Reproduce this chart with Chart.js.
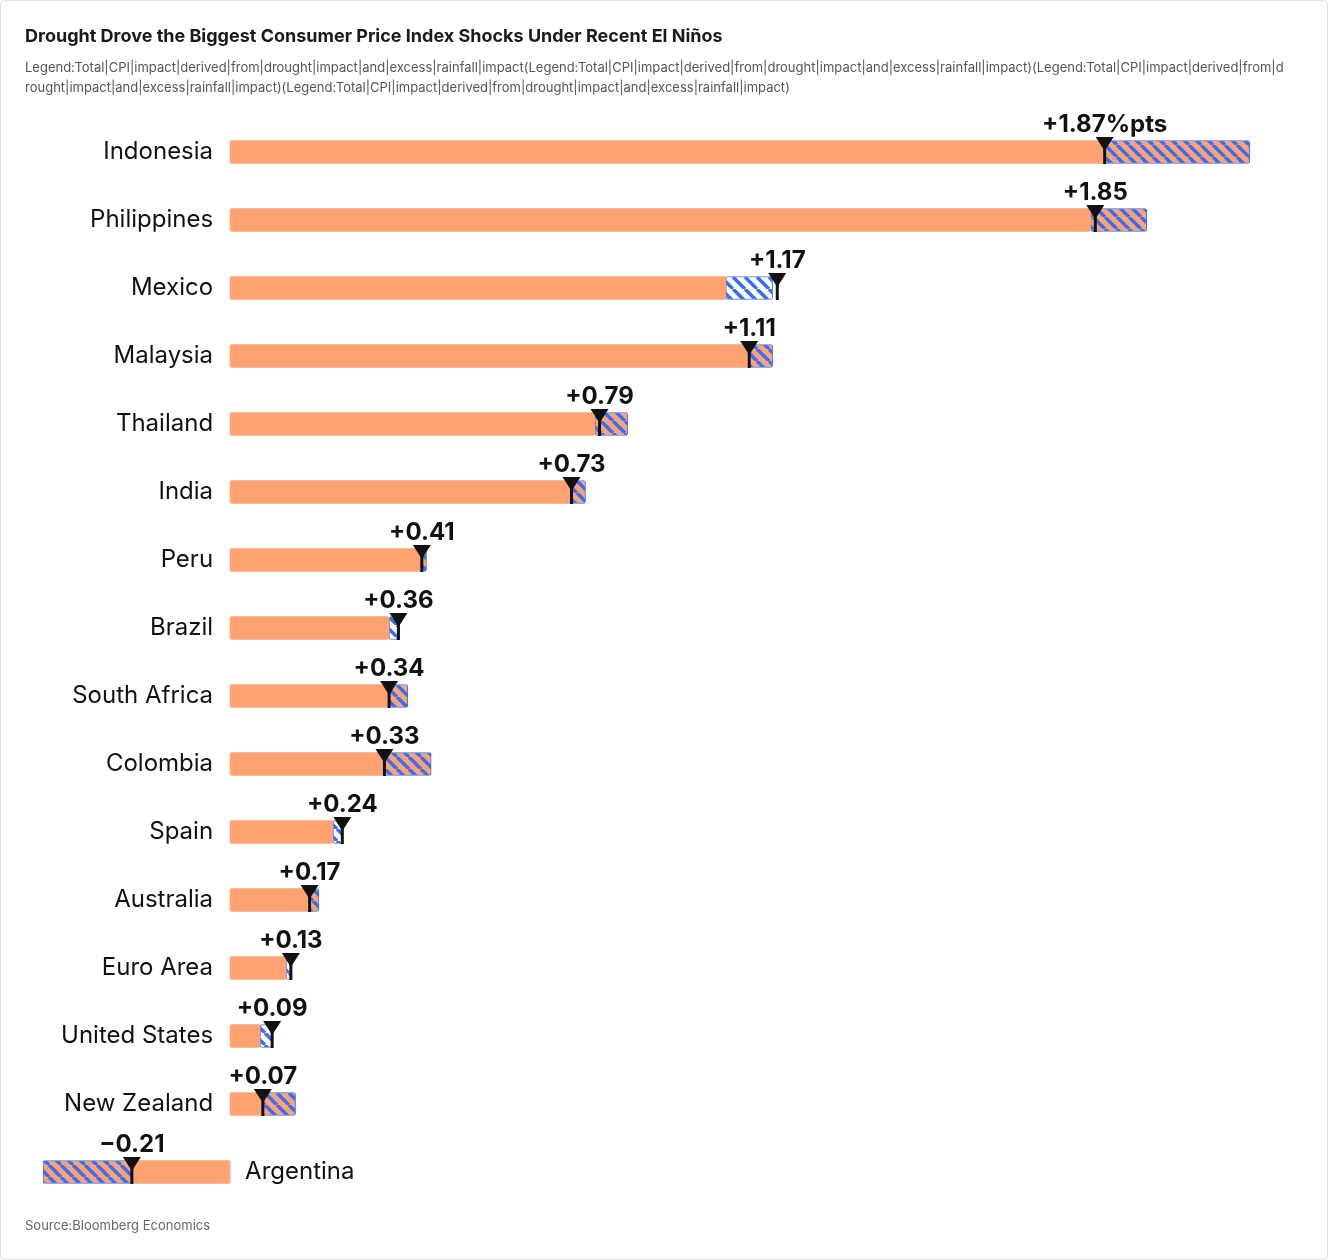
<!DOCTYPE html>
<html>
<head>
<meta charset="utf-8">
<script src="https://cdn.jsdelivr.net/npm/chart.js@4"></script>
<style>
  body { margin: 0; background: #fff; font-family: Inter, "Noto Sans", sans-serif; }
  #wrap { position: relative; width: 1328px; height: 1260px; box-sizing: border-box; border: 1px solid #e2e2e2; border-radius: 4px; }
  #title { position: absolute; left: 24px; top: 24px; font-size: 18px; font-weight: 700; color: #1a1a1a; }
  #sub { position: absolute; left: 24px; top: 56px; width: 1260px; font-size: 13px; line-height: 20px; color: #555; word-break: break-all; }
  #src { position: absolute; left: 24px; top: 1216px; font-size: 13px; color: #666; }
  canvas { position: absolute; left: 0; top: 0; }
</style>
</head>
<body>
<div id="wrap">
  <canvas id="c" width="1328" height="1260"></canvas>
  <div id="title">Drought Drove the Biggest Consumer Price Index Shocks Under Recent El Niños</div>
  <div id="sub">Legend:Total|CPI|impact|derived|from|drought|impact|and|excess|rainfall|impact(Legend:Total|CPI|impact|derived|from|drought|impact|and|excess|rainfall|impact)(Legend:Total|CPI|impact|derived|from|drought|impact|and|excess|rainfall|impact)(Legend:Total|CPI|impact|derived|from|drought|impact|and|excess|rainfall|impact)</div>
  <div id="src">Source:Bloomberg Economics</div>
</div>
<script>
// data
const countries = ['Indonesia', 'Philippines', 'Mexico', 'Malaysia', 'Thailand', 'India', 'Peru', 'Brazil',
  'South Africa', 'Colombia', 'Spain', 'Australia', 'Euro Area', 'United States', 'New Zealand', 'Argentina'];
const droughtLo = [0, 0, 0, 0, 0, 0, 0, 0, 0, 0, 0, 0, 0, 0, 0, -0.21];
const droughtHi = [1.87, 1.84, 1.06, 1.11, 0.78, 0.73, 0.41, 0.34, 0.34, 0.33, 0.22, 0.17, 0.12, 0.064, 0.07, 0];
const rainLo = [1.87, 1.84, 1.06, 1.11, 0.78, 0.73, 0.41, 0.34, 0.34, 0.33, 0.22, 0.17, 0.12, 0.064, 0.07, -0.40];
const rainHi = [2.18, 1.96, 1.16, 1.16, 0.85, 0.76, 0.42, 0.36, 0.38, 0.43, 0.24, 0.19, 0.13, 0.09, 0.14, -0.21];
const rainStyle = ['ob', 'ob', 'bw', 'ob', 'ob', 'ob', 'ob', 'bw', 'ob', 'ob', 'bw', 'ob', 'bw', 'bw', 'ob', 'ob'];
const totals = [1.87, 1.85, 1.17, 1.11, 0.79, 0.73, 0.41, 0.36, 0.34, 0.33, 0.24, 0.17, 0.13, 0.09, 0.07, -0.21];
const totalLabels = ['+1.87%pts', '+1.85', '+1.17', '+1.11', '+0.79', '+0.73', '+0.41', '+0.36', '+0.34',
  '+0.33', '+0.24', '+0.17', '+0.13', '+0.09', '+0.07', '\u22120.21'];

const ORANGE = '#ffa373';
const BLUE = '#3a6ef2';

function stripes(bg) {
  const p = document.createElement('canvas');
  p.width = 12; p.height = 12;
  const g = p.getContext('2d');
  g.fillStyle = bg; g.fillRect(0, 0, 12, 12);
  g.strokeStyle = BLUE; g.lineWidth = 3.5;
  for (let k = -12; k <= 24; k += 12) {
    g.beginPath(); g.moveTo(k, 0); g.lineTo(k + 12, 12); g.stroke();
  }
  return document.getElementById('c').getContext('2d').createPattern(p, 'repeat');
}
const patOB = stripes(ORANGE);
const patBW = stripes('#ffffff');

const overlay = {
  id: 'overlay',
  afterDatasetsDraw(chart) {
    const ctx = chart.ctx, x = chart.scales.x, y = chart.scales.y;
    ctx.save();
    countries.forEach((name, i) => {
      const cy = y.getPixelForValue(i);
      const px = x.getPixelForValue(totals[i]);
      const top = cy - 11, bot = cy + 12;
      // marker line and triangle
      ctx.fillStyle = '#111';
      ctx.fillRect(px - 1.5, top, 3, bot - top);
      ctx.beginPath();
      ctx.moveTo(px - 9, top - 4); ctx.lineTo(px + 9, top - 4); ctx.lineTo(px, top + 10); ctx.closePath();
      ctx.fill();
      // value label
      ctx.font = 'bold 24px Inter, "Noto Sans", sans-serif';
      ctx.textAlign = 'center'; ctx.textBaseline = 'alphabetic';
      ctx.fillText(totalLabels[i], px, cy - 20);
      // country label
      ctx.font = '24px Inter, "Noto Sans", sans-serif';
      ctx.textBaseline = 'middle';
      const zero = x.getPixelForValue(0);
      if (totals[i] < 0) { ctx.textAlign = 'left'; ctx.fillText(name, zero + 15, cy); }
      else { ctx.textAlign = 'right'; ctx.fillText(name, zero - 17, cy); }
    });
    ctx.restore();
  }
};

new Chart(document.getElementById('c'), {
  type: 'bar',
  data: {
    labels: countries,
    datasets: [
      {
        data: droughtLo.map((v, i) => [v, droughtHi[i]]),
        backgroundColor: ORANGE, borderWidth: 0, borderRadius: 2, borderSkipped: false,
        barThickness: 23, grouped: false
      },
      {
        data: rainLo.map((v, i) => [v, rainHi[i]]),
        backgroundColor: rainStyle.map(s => s === 'ob' ? patOB : patBW),
        borderColor: BLUE, borderWidth: 1, borderRadius: 2, borderSkipped: false,
        barThickness: 23, grouped: false
      }
    ]
  },
  options: {
    indexAxis: 'y',
    responsive: false,
    animation: false,
    layout: { padding: { left: 42, right: 70, top: 117, bottom: 55 } },
    plugins: { legend: { display: false }, tooltip: { enabled: false } },
    scales: {
      x: { display: false, min: -0.4, max: 2.2 },
      y: { display: false, offset: true }
    }
  },
  plugins: [overlay]
});
</script>
</body>
</html>
